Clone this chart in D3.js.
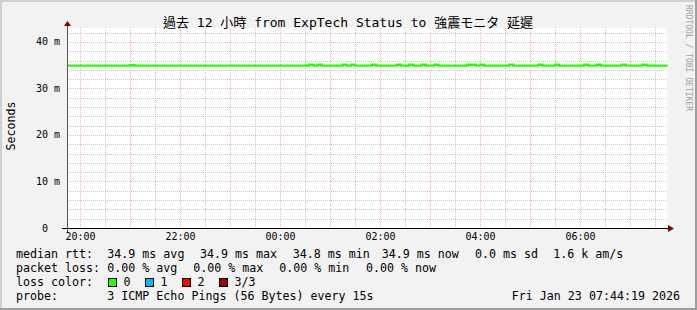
<!DOCTYPE html>
<html>
<head>
<meta charset="utf-8">
<script src="https://cdn.jsdelivr.net/npm/d3@7"></script>
<style>
  body { margin: 0; background: #f2f2f2; }
  svg { display: block; }
  text { font-family: "DejaVu Sans Mono", "Noto Sans CJK TC", monospace; fill: #000; white-space: pre; }
</style>
</head>
<body>
<div id="chart"></div>
<script>
const W = 697, H = 310;

// time range of the graph (12 hours)
const startTime = new Date(2026, 0, 22, 19, 44, 19);
const endTime = new Date(2026, 0, 23, 7, 44, 19);

// median rtt in ms, one value per 5 minute step starting 19:45
const medianRtt = [
  34.9, 34.9, 34.9, 34.9, 34.9, 34.9, 34.9, 34.9, 34.9, 34.9, 34.9, 34.9,
  34.9, 34.9, 34.9, 35.0, 34.9, 34.9, 34.9, 34.9, 34.9, 34.9, 34.9, 34.9,
  34.9, 34.9, 34.9, 34.9, 34.9, 34.9, 34.9, 34.9, 34.9, 34.9, 34.9, 34.9,
  34.9, 34.9, 34.9, 34.9, 34.9, 34.9, 34.9, 34.9, 34.9, 34.9, 34.9, 34.9,
  34.9, 34.9, 34.9, 34.9, 34.9, 34.9, 34.9, 34.9, 34.9, 34.9, 35.1, 34.9,
  35.1, 34.9, 34.9, 34.9, 34.9, 34.9, 35.1, 34.9, 35.1, 34.9, 34.9, 34.9,
  34.9, 35.1, 34.9, 34.9, 34.9, 34.9, 34.9, 35.1, 34.9, 34.9, 35.1, 34.9,
  34.9, 35.1, 34.9, 34.9, 35.1, 34.9, 34.9, 34.9, 34.9, 34.9, 34.9, 34.9,
  35.1, 35.1, 34.9, 35.1, 34.9, 34.9, 34.9, 34.9, 34.9, 34.9, 35.1, 34.9,
  34.9, 34.9, 34.9, 34.9, 34.9, 35.1, 34.9, 34.9, 34.9, 35.1, 34.9, 34.9,
  34.9, 34.9, 34.9, 34.9, 35.1, 34.9, 34.9, 35.1, 34.9, 34.9, 34.9, 34.9,
  34.9, 35.1, 34.9, 34.9, 34.9, 34.9, 35.1, 34.9, 34.9, 34.9, 34.9, 34.9
];

const yLabels = [0, 10, 20, 30, 40];
const rttStats = ["34.9 ms avg", "34.9 ms max", "34.8 ms min", "34.9 ms now", "0.0 ms sd", "1.6 k am/s"];
const lossStats = ["0.00 % avg", "0.00 % max", "0.00 % min", "0.00 % now"];
const lossLabels = ["0", "1", "2", "3/3"];
const lossColors = ["#26ff00", "#00b8ff", "#ff0000", "#a00000"];
const probeText = "3 ICMP Echo Pings (56 Bytes) every 15s";
const dateText = "Fri Jan 23 07:44:19 2026";
const title = "過去 12 小時 from ExpTech Status to 強震モニタ 延遲";

const svg = d3.select("#chart").append("svg")
  .attr("width", W)
  .attr("height", H);

// background + 3d border
svg.append("rect").attr("width", W).attr("height", H).attr("fill", "#f2f2f2");
svg.append("rect").attr("x", 0).attr("y", 0).attr("width", W).attr("height", 2).attr("fill", "#cfcfcf");
svg.append("rect").attr("x", 0).attr("y", 0).attr("width", 2).attr("height", H).attr("fill", "#cfcfcf");
svg.append("rect").attr("x", W - 2).attr("y", 0).attr("width", 2).attr("height", H).attr("fill", "#9e9e9e");
svg.append("rect").attr("x", 0).attr("y", H - 2).attr("width", W).attr("height", 2).attr("fill", "#9e9e9e");

const plotL = 67, plotR = 667, plotT = 28, plotB = 228;

let x = d3.scaleTime().domain([startTime, endTime]).range([plotL, plotR]);
let y = d3.scaleLinear().domain([0, 43]).range([plotB, plotT]);

// canvas
svg.append("rect")
  .attr("x", plotL).attr("y", plotT)
  .attr("width", plotR - plotL).attr("height", plotB - plotT)
  .attr("fill", "#fff");

let grid = svg.append("g").attr("shape-rendering", "crispEdges");

// minor grid
grid.selectAll(".vminor")
  .data(x.ticks(d3.timeMinute.every(30)))
  .join("line")
  .attr("x1", d => Math.round(x(d)) + 0.5).attr("x2", d => Math.round(x(d)) + 0.5)
  .attr("y1", plotT).attr("y2", plotB)
  .attr("stroke", "#c8c8c8").attr("stroke-dasharray", "1,1");

grid.selectAll(".hminor")
  .data(d3.range(2, 43, 2))
  .join("line")
  .attr("x1", plotL).attr("x2", plotR)
  .attr("y1", d => Math.round(y(d)) + 0.5).attr("y2", d => Math.round(y(d)) + 0.5)
  .attr("stroke", "#c8c8c8").attr("stroke-dasharray", "1,1");

// major grid
grid.selectAll(".vmajor")
  .data(x.ticks(d3.timeHour.every(1)))
  .join("line")
  .attr("x1", d => Math.round(x(d)) + 0.5).attr("x2", d => Math.round(x(d)) + 0.5)
  .attr("y1", plotT).attr("y2", plotB)
  .attr("stroke", "#f2b4b4").attr("stroke-dasharray", "1,1");

grid.selectAll(".hmajor")
  .data(yLabels.filter(d => d > 0))
  .join("line")
  .attr("x1", plotL).attr("x2", plotR)
  .attr("y1", d => Math.round(y(d)) + 0.5).attr("y2", d => Math.round(y(d)) + 0.5)
  .attr("stroke", "#f2b4b4").attr("stroke-dasharray", "1,1");

// median line
let stepMs = 5 * 60 * 1000;
let t0 = new Date(2026, 0, 22, 19, 45, 0);
let pts = medianRtt.map((v, i) => [new Date(+t0 + i * stepMs), v]);
pts.push([new Date(+t0 + medianRtt.length * stepMs), medianRtt[medianRtt.length - 1]]);
pts[0][0] = startTime;

let line = d3.line()
  .x(d => x(d[0]))
  .y(d => y(d[1]))
  .curve(d3.curveStepAfter);

svg.append("path")
  .datum(pts)
  .attr("d", line)
  .attr("fill", "none")
  .attr("stroke", lossColors[0])
  .attr("stroke-width", 2.4);

// axes
svg.append("line")
  .attr("x1", plotL + 0.5).attr("x2", plotL + 0.5)
  .attr("y1", plotB + 5).attr("y2", plotT - 3)
  .attr("stroke", "#555").attr("shape-rendering", "crispEdges");
svg.append("line")
  .attr("x1", plotL - 5).attr("x2", plotR + 2)
  .attr("y1", plotB + 0.5).attr("y2", plotB + 0.5)
  .attr("stroke", "#000").attr("stroke-width", 1.5).attr("shape-rendering", "crispEdges");

svg.append("path")
  .attr("d", `M${plotL - 3},${plotT - 2} L${plotL + 4},${plotT - 2} L${plotL + 0.5},${plotT - 7} Z`)
  .attr("fill", "#7f0000");
svg.append("path")
  .attr("d", `M${plotR + 1},${plotB - 3} L${plotR + 1},${plotB + 4} L${plotR + 7},${plotB + 0.5} Z`)
  .attr("fill", "#7f0000");

// axis labels
svg.append("g")
  .selectAll("text")
  .data(x.ticks(d3.timeHour.every(2)))
  .join("text")
  .attr("x", d => x(d) + 0.5)
  .attr("y", 240)
  .attr("text-anchor", "middle")
  .style("font-size", "10px")
  .text(d => d3.timeFormat("%H:%M")(d));

svg.append("g")
  .selectAll("text")
  .data(yLabels)
  .join("text")
  .attr("x", 60)
  .attr("y", d => y(d) + 3.5)
  .attr("text-anchor", "end")
  .style("font-size", "10px")
  .text(d => d == 0 ? "0  " : d + " m");

// title
svg.append("text")
  .attr("x", 348)
  .attr("y", 26.5)
  .attr("text-anchor", "middle")
  .style("font-size", "13px")
  .text(title);

svg.append("text")
  .attr("transform", "translate(14.5,126) rotate(-90)")
  .attr("text-anchor", "middle")
  .style("font-size", "11.6px")
  .text("Seconds");

svg.append("text")
  .attr("transform", "translate(686,5) rotate(90)")
  .style("font-size", "8px")
  .style("fill", "#a0a0a0")
  .text("RRDTOOL / TOBI OETIKER");

// legend
let legend = svg.append("g").style("font-size", "11.65px");
let rowY = [258, 272, 286, 300];

legend.append("text").attr("x", 16).attr("y", rowY[0]).text("median rtt:");
let rttX = [107.3, 200, 292.7, 381.7, 475, 553.3];
legend.selectAll(".rtt").data(rttStats).join("text")
  .attr("x", (d, i) => rttX[i]).attr("y", rowY[0]).text(d => d);

legend.append("text").attr("x", 16).attr("y", rowY[1]).text("packet loss:");
let lossX = [107.3, 193.3, 279.3, 366];
legend.selectAll(".loss").data(lossStats).join("text")
  .attr("x", (d, i) => lossX[i]).attr("y", rowY[1]).text(d => d);

legend.append("text").attr("x", 16).attr("y", rowY[2]).text("loss color:");
let boxX = [108.5, 145.5, 182.5, 219.5];
legend.selectAll("rect").data(lossColors).join("rect")
  .attr("x", (d, i) => boxX[i]).attr("y", 278.5)
  .attr("width", 8).attr("height", 8)
  .attr("fill", d => d).attr("stroke", "#000").attr("stroke-width", 1);
legend.selectAll(".lbl").data(lossLabels).join("text")
  .attr("x", (d, i) => boxX[i] + 15).attr("y", rowY[2]).text(d => d);

legend.append("text").attr("x", 16).attr("y", rowY[3]).text("probe:");
legend.append("text").attr("x", 107.3).attr("y", rowY[3]).text(probeText);
legend.append("text").attr("x", 680).attr("y", rowY[3]).attr("text-anchor", "end").text(dateText);
</script>
</body>
</html>
